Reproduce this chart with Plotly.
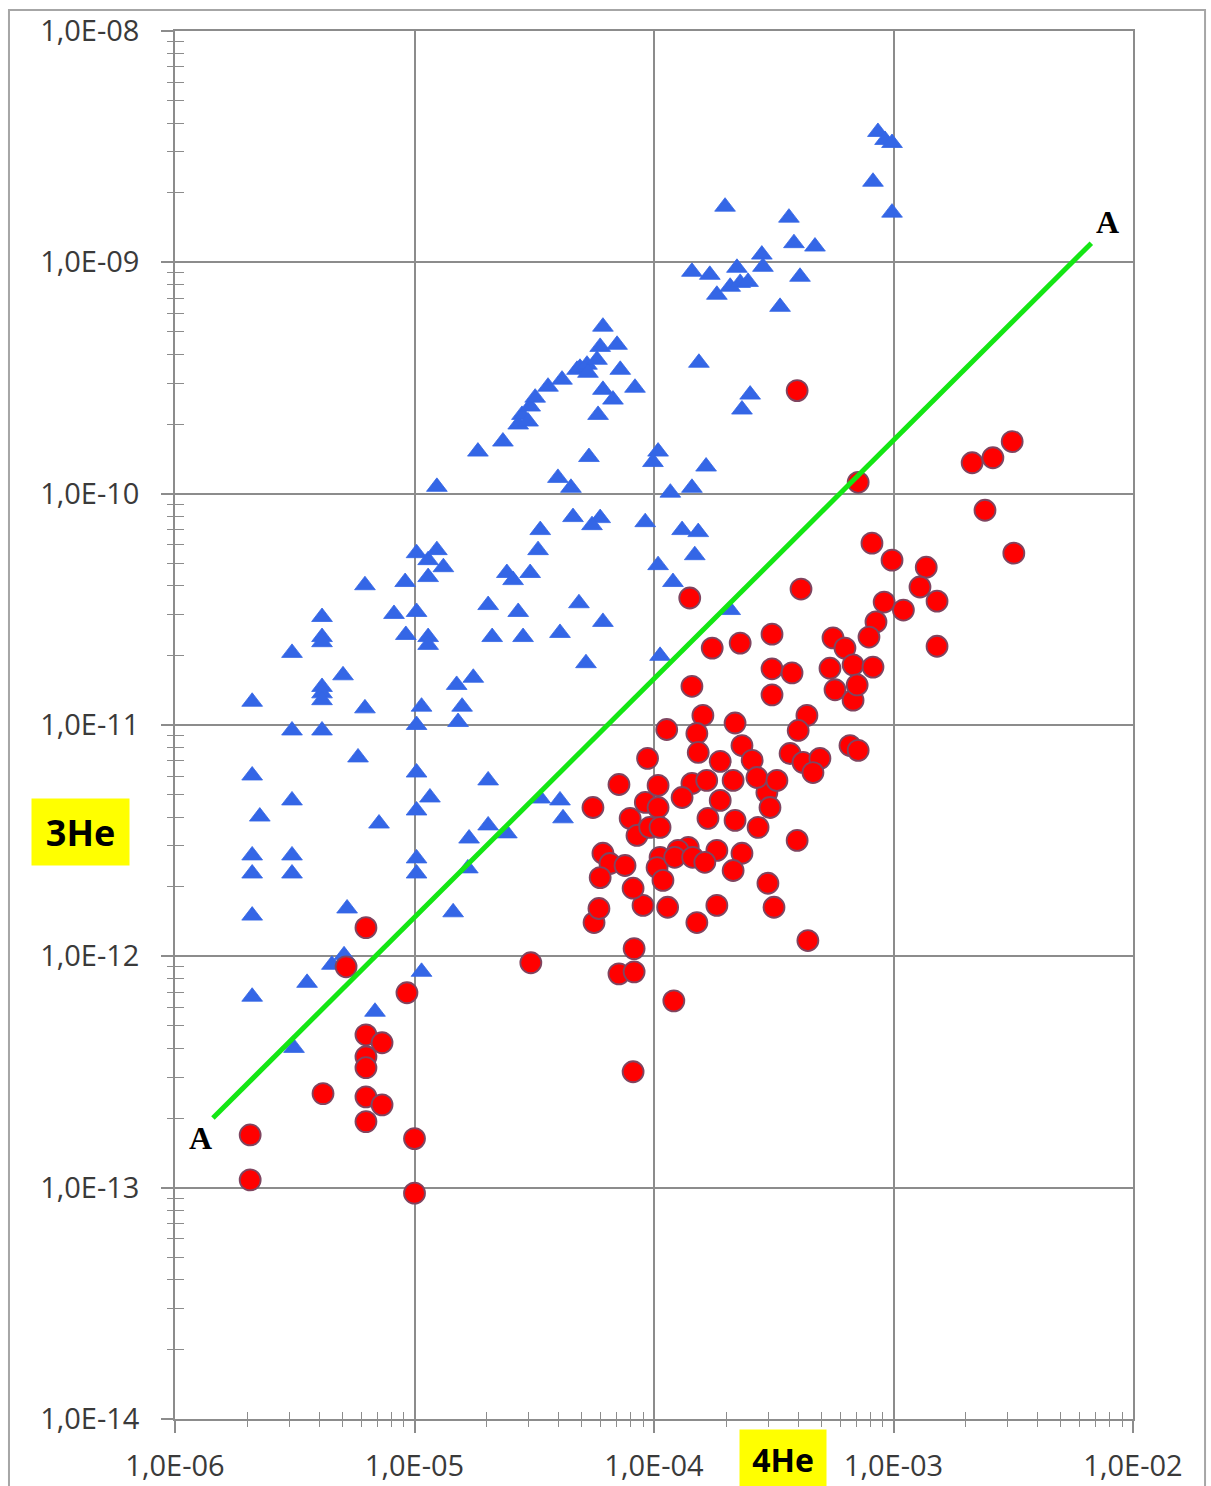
import plotly.graph_objects as go

# ---- data ----
# blue triangles: 4He (x), 3He (y)
blue_x = [2.1e-6, 2.1e-6, 2.26e-6, 2.1e-6, 2.1e-6, 2.1e-6, 2.1e-6,
          3.08e-6, 3.08e-6, 3.08e-6, 3.08e-6, 3.08e-6, 3.14e-6, 3.56e-6,
          4.11e-6, 4.11e-6, 4.11e-6, 4.11e-6, 4.11e-6, 4.11e-6, 4.11e-6,
          5.03e-6, 5.23e-6, 5.08e-6, 4.52e-6, 5.81e-6, 6.21e-6, 6.21e-6,
          6.84e-6, 7.11e-6, 8.21e-6, 9.14e-6, 9.2e-6,
          1.02e-5, 1.02e-5, 1.02e-5, 1.07e-5, 1.02e-5, 1.02e-5, 1.16e-5,
          1.02e-5, 1.02e-5, 1.07e-5, 1.14e-5, 1.14e-5, 1.14e-5, 1.14e-5,
          1.24e-5, 1.32e-5, 1.24e-5, 1.45e-5, 1.50e-5, 1.76e-5, 1.58e-5,
          1.52e-5, 1.69e-5, 1.67e-5, 1.84e-5, 2.03e-5, 2.11e-5, 2.03e-5,
          2.03e-5, 2.34e-5, 2.43e-5, 2.43e-5, 2.58e-5, 2.71e-5, 2.81e-5,
          2.98e-5, 3.04e-5, 3.19e-5, 3.61e-5, 4.13e-5, 4.77e-5, 4.91e-5,
          5.25e-5, 5.30e-5, 5.78e-5, 5.96e-5, 6.12e-5, 7.01e-5, 7.23e-5,
          8.33e-5, 6.12e-5, 6.74e-5, 5.84e-5, 5.35e-5, 3.97e-5, 4.50e-5,
          4.59e-5, 5.96e-5, 5.51e-5, 9.19e-5, 3.35e-5, 3.28e-5, 3.04e-5,
          2.71e-5, 2.84e-5, 4.05e-5, 4.86e-5, 6.12e-5, 5.20e-5,
          1.04e-4, 9.9e-5, 1.04e-4, 1.20e-4, 1.31e-4, 1.53e-4, 1.48e-4,
          1.17e-4, 1.44e-4, 1.65e-4, 1.06e-4, 2.08e-4, 1.54e-4, 2.33e-4,
          2.52e-4, 3.36e-4, 1.44e-4, 1.71e-4, 1.83e-4, 2.08e-4, 2.29e-4,
          2.47e-4, 2.22e-4, 2.82e-4, 2.85e-4, 1.98e-4, 3.66e-4, 3.84e-4,
          4.70e-4, 4.07e-4, 8.61e-4, 9.22e-4, 9.86e-4, 8.21e-4, 9.86e-4,
          3.35e-5, 4.05e-5, 4.17e-5]
blue_y = [1.26e-11, 6.05e-12, 4.02e-12, 2.73e-12, 2.28e-12, 1.50e-12, 6.69e-13,
          2.05e-11, 9.47e-12, 4.72e-12, 2.73e-12, 2.28e-12, 4.02e-13, 7.68e-13,
          2.93e-11, 2.40e-11, 2.28e-11, 1.46e-11, 1.37e-11, 1.28e-11, 9.47e-12,
          1.64e-11, 1.61e-12, 1.01e-12, 9.19e-13, 7.24e-12, 4.02e-11, 1.18e-11,
          5.76e-13, 3.75e-12, 3.02e-11, 4.15e-11, 2.45e-11,
          5.53e-11, 3.08e-11, 1.0e-11, 1.20e-11, 6.23e-12, 4.27e-12, 4.86e-12,
          2.65e-12, 2.28e-12, 8.57e-13, 5.16e-11, 4.36e-11, 2.40e-11, 2.22e-11,
          5.70e-11, 4.81e-11, 1.07e-10, 1.55e-12, 1.49e-11, 1.60e-11, 1.20e-11,
          1.03e-11, 3.23e-12, 2.40e-12, 1.52e-10, 3.30e-11, 2.40e-11, 5.76e-12,
          3.68e-12, 1.68e-10, 4.54e-11, 3.40e-12, 4.23e-11, 1.99e-10, 2.19e-10,
          2.05e-10, 2.38e-10, 2.60e-10, 2.90e-10, 3.11e-10, 3.43e-10, 3.50e-10,
          3.61e-10, 3.33e-10, 3.79e-10, 4.31e-10, 5.27e-10, 4.40e-10, 3.43e-10,
          2.87e-10, 2.81e-10, 2.55e-10, 2.19e-10, 1.44e-10, 1.17e-10, 1.06e-10,
          7.92e-11, 7.84e-11, 7.31e-11, 7.53e-11, 6.96e-11, 5.70e-11, 4.54e-11,
          3.08e-11, 2.40e-11, 2.50e-11, 3.36e-11, 2.79e-11, 1.85e-11,
          1.52e-10, 1.37e-10, 4.91e-11, 4.15e-11, 6.96e-11, 6.82e-11, 5.42e-11,
          1.01e-10, 1.06e-10, 1.31e-10, 1.99e-11, 3.14e-11, 3.68e-10, 2.31e-10,
          2.68e-10, 6.42e-10, 9.10e-10, 8.83e-10, 7.24e-10, 7.84e-10, 8.15e-10,
          8.23e-10, 9.47e-10, 1.08e-9, 9.56e-10, 1.74e-9, 1.56e-9, 1.21e-9,
          1.17e-9, 8.66e-10, 3.66e-9, 3.38e-9, 3.28e-9, 2.23e-9, 1.64e-9,
          4.81e-12, 4.72e-12, 3.95e-12]

# red circles
red_x = [6.27e-6, 5.18e-6, 9.30e-6, 6.27e-6, 7.32e-6, 6.27e-6, 6.27e-6,
         4.15e-6, 6.27e-6, 7.32e-6, 6.27e-6, 2.06e-6, 1.0e-5, 2.06e-6, 1.0e-5,
         3.06e-5, 5.62e-5, 5.89e-5, 8.26e-5, 7.14e-5, 8.26e-5, 1.21e-4,
         8.18e-5, 9.0e-5, 1.14e-4, 1.51e-4, 1.83e-4, 3.17e-4, 4.39e-4,
         1.41e-4, 4.11e-4, 1.75e-4, 2.29e-4, 3.11e-4, 3.11e-4, 3.77e-4,
         3.11e-4, 1.44e-4, 5.59e-4, 6.27e-4, 5.43e-4, 6.78e-4, 5.70e-4,
         6.78e-4, 1.60e-4, 2.18e-4, 1.13e-4, 1.51e-4, 4.35e-4, 4.0e-4,
         2.33e-4, 2.57e-4, 1.53e-4, 1.89e-4, 9.4e-5, 3.70e-4, 4.19e-4,
         4.93e-4, 4.61e-4, 6.58e-4, 7.12e-4, 7.14e-5, 1.04e-4, 1.44e-4,
         1.66e-4, 1.31e-4, 2.14e-4, 2.96e-4, 2.69e-4, 3.26e-4, 9.2e-5,
         1.04e-4, 1.89e-4, 5.56e-5, 7.95e-5, 8.49e-5, 9.6e-5, 1.06e-4,
         1.68e-4, 2.18e-4, 2.72e-4, 3.05e-4, 1.39e-4, 1.26e-4, 1.83e-4,
         2.33e-4, 3.96e-4, 6.12e-5, 6.55e-5, 7.57e-5, 1.06e-4, 1.03e-4,
         1.22e-4, 1.45e-4, 1.63e-4, 2.14e-4, 5.96e-5, 1.09e-4, 8.18e-5,
         2.99e-4, 8.13e-4, 9.86e-4, 1.37e-3, 1.29e-3, 1.52e-3, 3.18e-3,
         9.14e-4, 1.10e-3, 8.45e-4, 7.90e-4, 1.52e-3, 8.21e-4, 7.05e-4,
         7.12e-4, 3.13e-3, 2.60e-3, 2.13e-3, 2.41e-3, 3.96e-4]
red_y = [1.33e-12, 9.01e-13, 6.96e-13, 4.58e-13, 4.23e-13, 3.68e-13, 3.30e-13,
         2.55e-13, 2.47e-13, 2.28e-13, 1.93e-13, 1.69e-13, 1.63e-13, 1.08e-13, 9.47e-14,
         9.38e-13, 1.40e-12, 1.61e-12, 1.08e-12, 8.40e-13, 8.57e-13, 6.42e-13,
         3.17e-13, 1.66e-12, 1.63e-12, 1.40e-12, 1.66e-12, 1.63e-12, 1.17e-12,
         3.54e-11, 3.87e-11, 2.15e-11, 2.26e-11, 2.47e-11, 1.75e-11, 1.68e-11,
         1.35e-11, 1.47e-11, 2.38e-11, 2.15e-11, 1.76e-11, 1.82e-11, 1.42e-11,
         1.28e-11, 1.10e-11, 1.02e-11, 9.56e-12, 9.19e-12, 1.10e-11, 9.47e-12,
         8.15e-12, 7.03e-12, 7.61e-12, 6.96e-12, 7.17e-12, 7.53e-12, 6.89e-12,
         7.17e-12, 6.23e-12, 8.15e-12, 7.77e-12, 5.53e-12, 5.48e-12, 5.59e-12,
         5.76e-12, 4.86e-12, 5.76e-12, 5.11e-12, 5.93e-12, 5.76e-12, 4.63e-12,
         4.40e-12, 4.72e-12, 4.40e-12, 3.95e-12, 3.33e-12, 3.61e-12, 3.61e-12,
         3.95e-12, 3.87e-12, 3.61e-12, 4.40e-12, 2.96e-12, 2.87e-12, 2.87e-12,
         2.79e-12, 3.17e-12, 2.79e-12, 2.52e-12, 2.47e-12, 2.68e-12, 2.42e-12,
         2.68e-12, 2.68e-12, 2.55e-12, 2.35e-12, 2.19e-12, 2.13e-12, 1.97e-12,
         2.07e-12, 6.11e-11, 5.16e-11, 4.81e-11, 3.95e-11, 3.43e-11, 5.53e-11,
         3.40e-11, 3.14e-11, 2.79e-11, 2.40e-11, 2.19e-11, 1.78e-11, 1.49e-11,
         1.12e-10, 1.68e-10, 1.43e-10, 1.36e-10, 8.48e-11, 2.79e-10]

# line A-A
line_x = [1.44e-6, 6.7e-3]
line_y = [2.0e-13, 1.21e-9]

x_tickvals = [1e-6, 1e-5, 1e-4, 1e-3, 1e-2]
x_ticktext = ["1,0E-06", "1,0E-05", "1,0E-04", "1,0E-03", "1,0E-02"]
y_tickvals = [1e-14, 1e-13, 1e-12, 1e-11, 1e-10, 1e-9, 1e-8]
y_ticktext = ["1,0E-14", "1,0E-13", "1,0E-12", "1,0E-11", "1,0E-10", "1,0E-09", "1,0E-08"]

# ---- figure ----
GRAY = "#8c8c8c"
x_minor = [m * 10.0 ** e for e in range(-6, -2) for m in range(2, 10)]
y_minor = [m * 10.0 ** e for e in range(-14, -8) for m in range(2, 10)]

fig = go.Figure()
fig.add_trace(go.Scatter(x=blue_x, y=blue_y, mode="markers",
                         marker=dict(symbol="triangle-up", size=18, color="#3466e6",
                                     line=dict(width=0.8, color="#3466e6")),
                         showlegend=False))
fig.add_trace(go.Scatter(x=red_x, y=red_y, mode="markers",
                         marker=dict(symbol="circle", size=21, color="#ff0000",
                                     line=dict(width=1.8, color="#7f4560")),
                         showlegend=False))
fig.add_trace(go.Scatter(x=line_x, y=line_y, mode="lines",
                         line=dict(color="#14e614", width=5), showlegend=False))
fig.add_trace(go.Scatter(x=[], y=[], xaxis="x2", yaxis="y2", showlegend=False))

tickfont = dict(family="Open Sans", size=29, color="#3a3a3a")

fig.update_layout(
    width=1211, height=1486,
    margin=dict(l=175, r=78, t=31, b=67, autoexpand=False),
    paper_bgcolor="white", plot_bgcolor="white",
    xaxis=dict(type="log", range=[-6, -2], tickmode="array",
               tickvals=x_tickvals, ticktext=x_ticktext, automargin=False,
               ticks="outside", ticklen=12, tickwidth=1.5, tickcolor=GRAY,
               tickfont=tickfont, ticklabelstandoff=8,
               showgrid=True, gridcolor=GRAY, gridwidth=1.5,
               showline=True, linecolor=GRAY, linewidth=1.5, mirror=True,
               zeroline=False,
               minor=dict(tickmode="array", tickvals=x_minor, ticks="inside",
                          ticklen=7, tickwidth=1.3, tickcolor=GRAY, showgrid=False)),
    yaxis=dict(type="log", range=[-14, -8], tickmode="array",
               tickvals=y_tickvals, ticktext=y_ticktext, automargin=False,
               ticks="outside", ticklen=12, tickwidth=1.5, tickcolor=GRAY,
               tickfont=tickfont, ticklabelstandoff=16,
               showgrid=True, gridcolor=GRAY, gridwidth=1.5,
               showline=True, linecolor=GRAY, linewidth=1.5, mirror=True,
               zeroline=False,
               minor=dict(tickmode="array", tickvals=y_minor, ticks="inside",
                          ticklen=9, tickwidth=1.3, tickcolor=GRAY, showgrid=False)),
    xaxis2=dict(type="log", range=[-6, -2], overlaying="x", anchor="y", side="bottom",
                showticklabels=False, showgrid=False, showline=False, zeroline=False,
                ticks="", tickmode="array", tickvals=[], automargin=False,
                minor=dict(tickmode="array", tickvals=x_minor, ticks="outside",
                           ticklen=7, tickwidth=1.3, tickcolor=GRAY, showgrid=False)),
    yaxis2=dict(type="log", range=[-14, -8], overlaying="y", anchor="x", side="left",
                showticklabels=False, showgrid=False, showline=False, zeroline=False,
                ticks="", tickmode="array", tickvals=[], automargin=False,
                minor=dict(tickmode="array", tickvals=y_minor, ticks="outside",
                           ticklen=7, tickwidth=1.3, tickcolor=GRAY, showgrid=False)),
)

# outer frame
fig.add_shape(type="rect", xref="paper", yref="paper",
              x0=-0.1733, x1=1.0752, y0=-0.06, y1=1.0151,
              line=dict(color="#a6a6a6", width=2), layer="below")

# axis titles with yellow backgrounds
fig.add_annotation(text="<b>3He</b>", xref="paper", yref="paper",
                   x=-0.0987, y=0.4229, xanchor="center", yanchor="middle",
                   showarrow=False,
                   font=dict(family="Open Sans", size=36, color="black"),
                   bgcolor="#ffff00", width=97, height=66, borderpad=0)
fig.add_annotation(text="<b>4He</b>", xref="paper", yref="paper",
                   x=0.6347, y=-0.0285, xanchor="center", yanchor="middle",
                   showarrow=False,
                   font=dict(family="Open Sans", size=32, color="black"),
                   bgcolor="#ffff00", width=86, height=58, borderpad=0)

# "A" labels at the ends of the line
fig.add_annotation(text="<b>A</b>", xref="paper", yref="paper",
                   x=0.0261, y=0.2024, xanchor="center", yanchor="middle",
                   showarrow=False,
                   font=dict(family="Liberation Serif", size=32, color="black"))
fig.add_annotation(text="<b>A</b>", xref="paper", yref="paper",
                   x=0.9739, y=0.8624, xanchor="center", yanchor="middle",
                   showarrow=False,
                   font=dict(family="Liberation Serif", size=32, color="black"))

fig.write_html("out.html")
